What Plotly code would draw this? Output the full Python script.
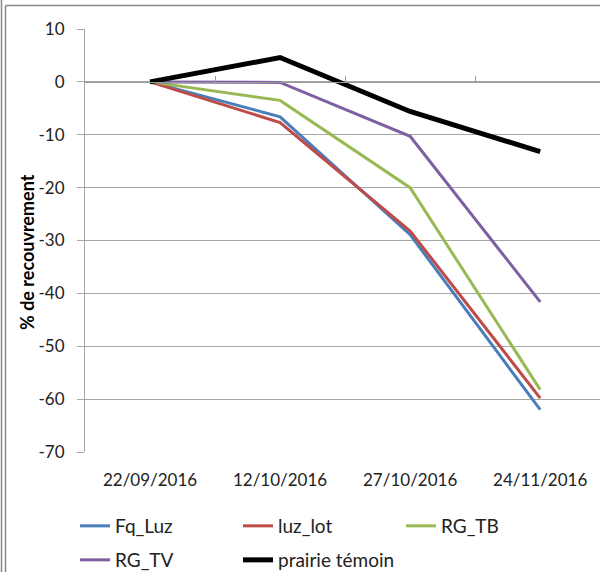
import plotly.graph_objects as go

dates = ["22/09/2016", "12/10/2016", "27/10/2016", "24/11/2016"]
fq_luz = [0, -6.6, -28.9, -62.0]
luz_lot = [0, -7.7, -28.2, -59.8]
rg_tb = [0, -3.5, -20.0, -58.2]
rg_tv = [0, -0.1, -10.3, -41.6]
prairie = [0, 4.6, -5.6, -13.2]
y_ticks = [10, 0, -10, -20, -30, -40, -50, -60, -70]
y_ticktext = ["10", "0", "-10", "-20", "-30", "-40", "-50", "-60", "-70"]

series = [
    ("Fq_Luz", fq_luz, "#4A7EBB", 3, "legend"),
    ("luz_lot", luz_lot, "#BE4B48", 3, "legend"),
    ("RG_TB", rg_tb, "#98B954", 3, "legend"),
    ("RG_TV", rg_tv, "#7D60A0", 3, "legend2"),
    ("prairie témoin", prairie, "#000000", 5, "legend2"),
]

W, H = 600, 572
L, R, T, B = 85, 0, 29, 120
PW, PH = W - L - R, H - T - B

def px(x):
    return (x - L) / PW

def py(y):
    return (H - B - y) / PH

fig = go.Figure()
xs = list(range(len(dates)))
for name, vals, col, w, lg in series:
    fig.add_trace(go.Scatter(x=xs, y=vals, mode="lines", name=name,
                             line=dict(color=col, width=w), legend=lg))

fig.add_trace(go.Scatter(x=[0], y=[0], xaxis="x2", mode="markers",
                         marker=dict(opacity=0), showlegend=False, hoverinfo="skip"))

font = dict(family="Lato, Liberation Sans, sans-serif", size=17, color="#222")
lfont = dict(family="Lato, Liberation Sans, sans-serif", size=19, color="#222")

fig.update_layout(
    width=W, height=H,
    margin=dict(l=L, r=R, t=T, b=B, autoexpand=False),
    paper_bgcolor="white", plot_bgcolor="white",
    font=font,
    xaxis=dict(range=[-0.5, 3.46], tickmode="array", tickvals=xs, ticktext=dates,
               showgrid=False, zeroline=False, showline=False, ticks="",
               ticklabelstandoff=16, fixedrange=True, automargin=False),
    xaxis2=dict(overlaying="x", anchor="free", position=py(82), side="bottom",
                range=[-0.5, 3.46], tickmode="array", tickvals=[0.5, 1.5, 2.5, 3.5],
                ticks="inside", ticklen=6, tickcolor="#999", showticklabels=False,
                showgrid=False, zeroline=False, showline=True, linecolor="#999", linewidth=1,
                automargin=False),
    yaxis=dict(range=[-70, 10], tickmode="array", tickvals=y_ticks, ticktext=y_ticktext,
               showgrid=True, gridcolor="#a6a6a6",
               gridwidth=1, zeroline=False, showline=True, linecolor="#a6a6a6",
               ticks="outside", ticklen=7, tickcolor="#a6a6a6", ticklabelstandoff=9,
               automargin=False),
    annotations=[dict(text="<b>% de recouvrement</b>", xref="paper", yref="paper",
                      x=px(27), y=py(252), textangle=-90, showarrow=False,
                      xanchor="center", yanchor="middle",
                      font=dict(family="Lato, Liberation Sans, sans-serif", size=18, color="#000"))],
    legend=dict(orientation="h", x=px(75), y=py(507), xanchor="left", yanchor="top",
                entrywidth=118, entrywidthmode="pixels", font=lfont, bgcolor="rgba(0,0,0,0)",
                itemwidth=30, traceorder="normal"),
    legend2=dict(orientation="h", x=px(75), y=py(541), xanchor="left", yanchor="top",
                 entrywidth=118, entrywidthmode="pixels", font=lfont, bgcolor="rgba(0,0,0,0)",
                 itemwidth=30, traceorder="normal"),
    shapes=[
        dict(type="line", xref="paper", yref="paper", x0=px(1.5), x1=px(1.5), y0=py(0), y1=py(572),
             line=dict(color="#888", width=1.5)),
        dict(type="line", xref="paper", yref="paper", x0=px(5.5), x1=px(5.5), y0=py(5.5), y1=py(572),
             line=dict(color="#888", width=1.5)),
        dict(type="line", xref="paper", yref="paper", x0=px(5.5), x1=px(600), y0=py(5.5), y1=py(5.5),
             line=dict(color="#888", width=1.5)),
    ],
)

fig.write_html("out.html", config={"displayModeBar": False},
               post_script="document.body.style.margin='0';document.body.style.padding='0';")
